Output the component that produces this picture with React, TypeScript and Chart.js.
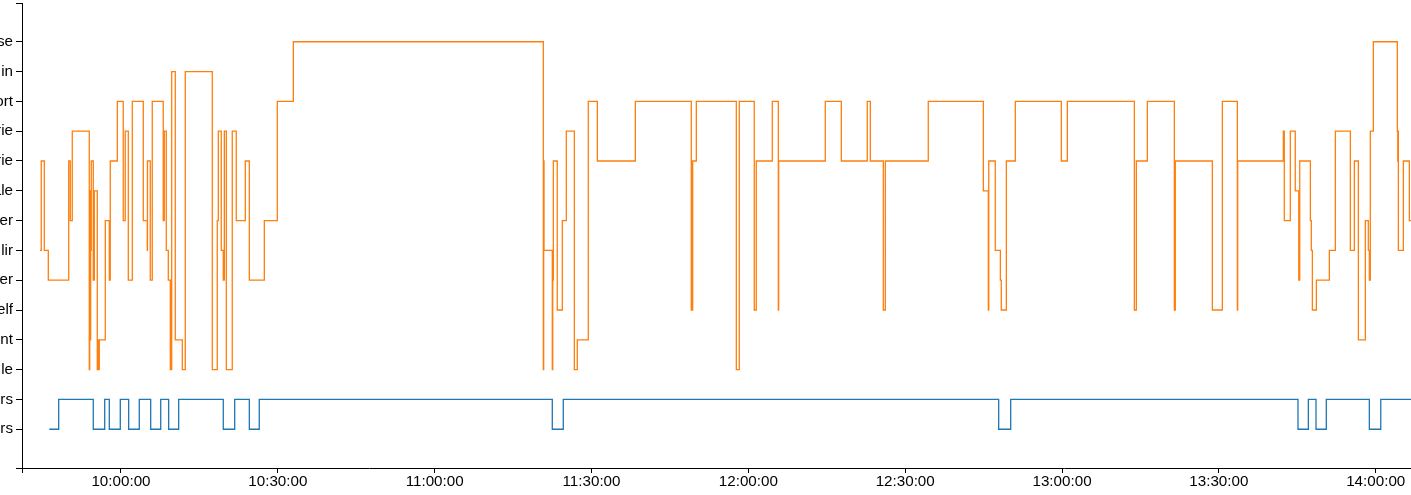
import React, { useEffect, useRef } from "react";
import { Chart, registerables } from "chart.js";

Chart.register(...registerables);

// y categories, bottom (index 0) to top (index 13); only the visible (clipped) text
const categories = ["rs", "rs", "le", "nt", "elf", "er", "lir", "er", "ale", "rie", "rie", "ort", "in", "se"];

const xTickTimes = ["10:00:00", "10:30:00", "11:00:00", "11:30:00", "12:00:00", "12:30:00", "13:00:00", "13:30:00", "14:00:00"];
const xMinTime = "09:41:04";
const xMaxTime = "14:06:45";

const orangeTimes = [
  "09:44:30", "09:44:45", "09:45:20", "09:46:06", "09:50:00", "09:50:18", "09:50:41", "09:53:56", "09:54:01", "09:54:04",
  "09:54:08", "09:54:12", "09:54:16", "09:54:19", "09:54:42", "09:54:47", "09:54:50", "09:54:54", "09:55:28", "09:55:32",
  "09:55:36", "09:55:42", "09:55:48", "09:55:51", "09:57:00", "09:57:46", "09:57:51", "09:57:54", "09:57:57", "09:59:18",
  "10:00:26", "10:00:49", "10:01:24", "10:02:10", "10:04:16", "10:05:02", "10:05:04", "10:05:36", "10:05:59", "10:08:05",
  "10:08:10", "10:08:14", "10:08:17", "10:08:40", "10:09:03", "10:09:26", "10:09:32", "10:09:36", "10:09:42", "10:10:23",
  "10:11:44", "10:12:18", "10:17:28", "10:18:25", "10:18:37", "10:19:11", "10:19:34", "10:19:39", "10:19:42", "10:19:46",
  "10:20:09", "10:21:17", "10:22:03", "10:23:47", "10:24:33", "10:27:25", "10:29:54", "10:32:58", "11:20:47", "11:20:51",
  "11:20:55", "11:22:30", "11:22:35", "11:22:42", "11:23:27", "11:24:25", "11:25:11", "11:26:43", "11:27:17", "11:29:23",
  "11:31:07", "11:38:23", "11:49:05", "11:49:11", "11:49:16", "11:49:21", "11:50:03", "11:57:42", "11:58:16", "12:01:08",
  "12:01:31", "12:04:35", "12:05:44", "12:05:48", "12:14:43", "12:17:47", "12:22:45", "12:23:20", "12:25:49", "12:26:12",
  "12:34:25", "12:44:57", "12:45:54", "12:45:59", "12:47:14", "12:48:12", "12:48:23", "12:49:21", "12:51:04", "12:59:52",
  "13:01:01", "13:13:50", "13:14:13", "13:16:19", "13:21:29", "13:21:34", "13:21:37", "13:21:40", "13:28:45", "13:30:40",
  "13:33:32", "13:33:36", "13:42:20", "13:42:24", "13:42:28", "13:42:31", "13:43:40", "13:44:37", "13:45:17", "13:45:20",
  "13:45:23", "13:45:28", "13:47:30", "13:47:41", "13:47:53", "13:48:39", "13:51:08", "13:52:17", "13:55:09", "13:55:55",
  "13:56:41", "13:58:01", "13:58:35", "13:58:47", "13:58:51", "13:58:55", "13:58:58", "13:59:33", "14:04:08", "14:04:13",
  "14:04:16", "14:04:20", "14:05:17", "14:06:26", "14:07:00",
];
const orangeLevels = [
  6, 9, 6, 5, 9, 7, 10, 2, 3, 8,
  3, 8, 6, 9, 5, 8, 5, 8, 2, 3,
  2, 3, 2, 3, 7, 5, 7, 5, 9, 11,
  7, 10, 5, 11, 7, 6, 9, 5, 11, 7,
  10, 7, 10, 6, 5, 2, 5, 2, 12, 3,
  2, 12, 2, 7, 10, 6, 5, 6, 5, 10,
  2, 10, 7, 9, 5, 7, 11, 13, 2, 9,
  6, 2, 5, 9, 4, 7, 10, 2, 3, 11,
  9, 11, 4, 9, 4, 9, 11, 2, 11, 4,
  9, 11, 4, 9, 11, 9, 11, 9, 4, 9,
  11, 8, 4, 9, 6, 5, 4, 9, 11, 9,
  11, 4, 9, 11, 4, 9, 4, 9, 4, 11,
  4, 9, 10, 9, 10, 7, 10, 8, 5, 8,
  5, 9, 7, 6, 4, 5, 6, 10, 6, 9,
  3, 7, 6, 5, 6, 5, 10, 13, 10, 9,
  10, 6, 9, 7, 7,
];

const blueTimes = [
  "09:46:17", "09:48:05", "09:54:42", "09:56:53", "09:57:46", "09:59:52", "10:01:28", "10:03:30", "10:05:41", "10:07:36",
  "10:09:07", "10:11:02", "10:19:34", "10:21:45", "10:24:33", "10:26:27", "11:22:30", "11:24:36", "12:47:53", "12:50:11",
  "13:45:08", "13:47:07", "13:48:35", "13:50:33", "13:58:47", "14:00:58", "14:07:00",
];
const blueLevels = [
  0, 1, 0, 1, 0, 1, 0, 1, 0, 1,
  0, 1, 0, 1, 0, 1, 0, 1, 0, 1,
  0, 1, 0, 1, 0, 1, 1,
];

function toSec(s: string): number {
  const [h, m, sec] = s.split(":").map(Number);
  return h * 3600 + m * 60 + sec;
}
function fmt(v: number): string {
  const h = Math.floor(v / 3600);
  const m = Math.floor((v % 3600) / 60);
  const s = Math.round(v % 60);
  const p = (n: number) => String(n).padStart(2, "0");
  return `${p(h)}:${p(m)}:${p(s)}`;
}

const FONT = { family: "'Liberation Sans', Arial, sans-serif", size: 15.2 };

export default function App() {
  const ref = useRef<HTMLCanvasElement | null>(null);
  useEffect(() => {
    if (!ref.current) return;
    const xMin = toSec(xMinTime);
    const xMax = toSec(xMaxTime);
    const yMin = -1.3;
    const yMax = categories.length - 1 + 1.3;
    const chart = new Chart(ref.current, {
      type: "line",
      data: {
        datasets: [
          {
            data: blueTimes.map((t, i) => ({ x: toSec(t), y: blueLevels[i] })),
            borderColor: "#1f77b4",
            borderWidth: 1.3,
            pointRadius: 0,
            stepped: true,
            fill: false,
          },
          {
            data: orangeTimes.map((t, i) => ({ x: toSec(t), y: orangeLevels[i] })),
            borderColor: "#ff7f0e",
            borderWidth: 1.3,
            pointRadius: 0,
            stepped: true,
            fill: false,
          },
        ],
      },
      options: {
        animation: false,
        responsive: false,
        devicePixelRatio: 1,
        layout: { padding: { top: 3, left: 0, right: 0, bottom: 0 } },
        plugins: { legend: { display: false }, tooltip: { enabled: false } },
        scales: {
          x: {
            type: "linear",
            min: xMin,
            max: xMax,
            afterBuildTicks: (axis: any) => {
              axis.ticks = [xMin, ...xTickTimes.map(toSec)].map((v) => ({ value: v }));
            },
            afterFit: (axis: any) => {
              axis.height = 27;
              axis.paddingLeft = 0;
              axis.paddingRight = 0;
            },
            ticks: {
              autoSkip: false,
              maxRotation: 0,
              padding: 0,
              color: "#000",
              font: FONT,
              callback: (v: any) => (v === xMin ? "" : fmt(Number(v))),
            },
            grid: { drawOnChartArea: false, drawTicks: true, tickLength: 5, color: "#000", lineWidth: 1 },
            border: { display: true, color: "#000", width: 1 },
          },
          y: {
            type: "linear",
            min: yMin,
            max: yMax,
            afterBuildTicks: (axis: any) => {
              axis.ticks = [yMin, ...categories.map((_, i) => i), yMax].map((v) => ({ value: v }));
            },
            afterFit: (axis: any) => {
              axis.width = 22;
              axis.paddingTop = 0;
              axis.paddingBottom = 0;
            },
            ticks: {
              autoSkip: false,
              padding: 3,
              color: "#000",
              font: FONT,
              callback: (v: any) => (Number.isInteger(v) ? categories[v] : ""),
            },
            grid: { drawOnChartArea: false, drawTicks: true, tickLength: 6, color: "#000", lineWidth: 1 },
            border: { display: true, color: "#000", width: 1 },
          },
        },
      },
    });
    return () => chart.destroy();
  }, []);
  return (
    <div style={{ position: "absolute", left: 0, top: 0, width: 1411, height: 495, background: "#fff" }}>
      <canvas ref={ref} width={1411} height={495} style={{ display: "block" }} />
    </div>
  );
}
